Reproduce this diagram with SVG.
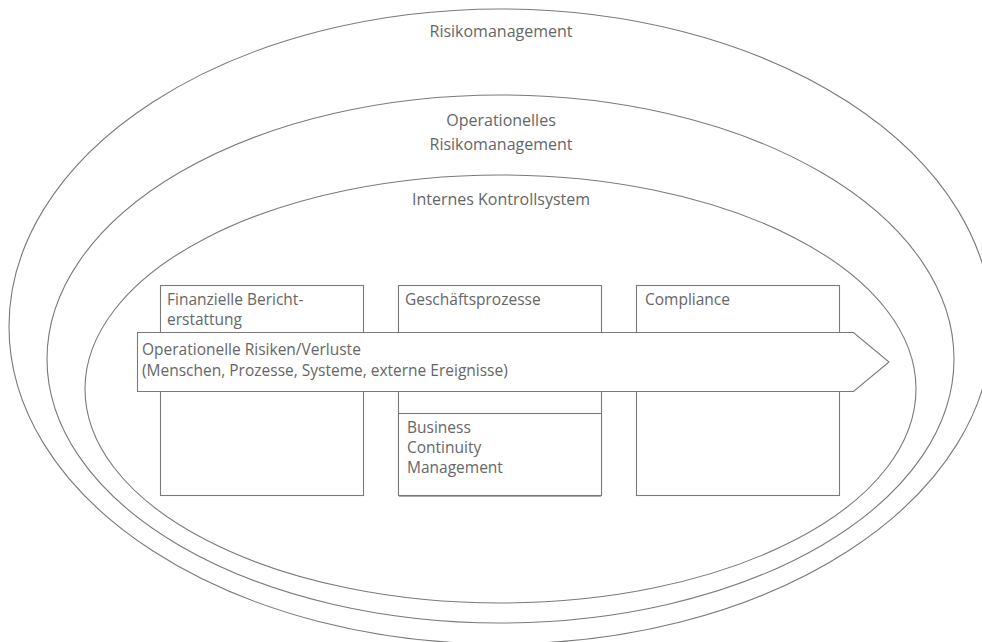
<svg xmlns="http://www.w3.org/2000/svg" width="982" height="642" viewBox="0 0 982 642">
<style>
.ring{fill:none;stroke:#7a7a7a;stroke-width:1.1}
.box{fill:#fff;stroke:#7a7a7a;stroke-width:1.1}
.t{font-family:"Open Sans","Noto Sans","Liberation Sans",sans-serif;font-size:16px;fill:#666}
.s{font-size:15.5px}
.c{text-anchor:middle}
</style>
<rect width="982" height="642" fill="#fff"/>
<g id="risikomanagement">
<ellipse class="ring" cx="500.5" cy="326.5" rx="491.5" ry="317.5"/>
<text class="t c" x="501" y="37">Risikomanagement</text>
</g>
<g id="operationelles-risikomanagement">
<ellipse class="ring" cx="500.5" cy="359" rx="453.5" ry="264"/>
<text class="t c" x="501" y="126">Operationelles</text>
<text class="t c" x="501" y="150">Risikomanagement</text>
</g>
<g id="internes-kontrollsystem">
<ellipse class="ring" cx="500.5" cy="389" rx="415.5" ry="214"/>
<text class="t c" x="501" y="205">Internes Kontrollsystem</text>
</g>
<g id="finanzielle-berichterstattung">
<rect class="box" x="160.5" y="285.5" width="203" height="210"/>
<text class="t s" x="167" y="305">Finanzielle Bericht-</text>
<text class="t s" x="167" y="325">erstattung</text>
</g>
<g id="geschaeftsprozesse">
<rect class="box" x="398.5" y="285.5" width="203" height="210"/>
<text class="t s" x="405" y="305">Geschäftsprozesse</text>
</g>
<g id="compliance">
<rect class="box" x="636.5" y="285.5" width="203" height="210"/>
<text class="t s" x="645" y="305">Compliance</text>
</g>
<g id="business-continuity-management">
<rect class="box" x="398.5" y="413.5" width="203" height="82"/>
<line x1="399" y1="496.5" x2="601" y2="496.5" stroke="#aaa" stroke-width="1"/>
<text class="t s" x="407" y="433">Business</text>
<text class="t s" x="407" y="453">Continuity</text>
<text class="t s" x="407" y="473">Management</text>
</g>
<g id="operationelle-risiken">
<polygon class="box" points="137.5,332.5 853.5,332.5 889,362 853.5,391.5 137.5,391.5"/>
<text class="t s" x="142" y="355">Operationelle Risiken/Verluste</text>
<text class="t s" x="142" y="375.5">(Menschen, Prozesse, Systeme, externe Ereignisse)</text>
</g>
<g id="connectors"></g>
</svg>
